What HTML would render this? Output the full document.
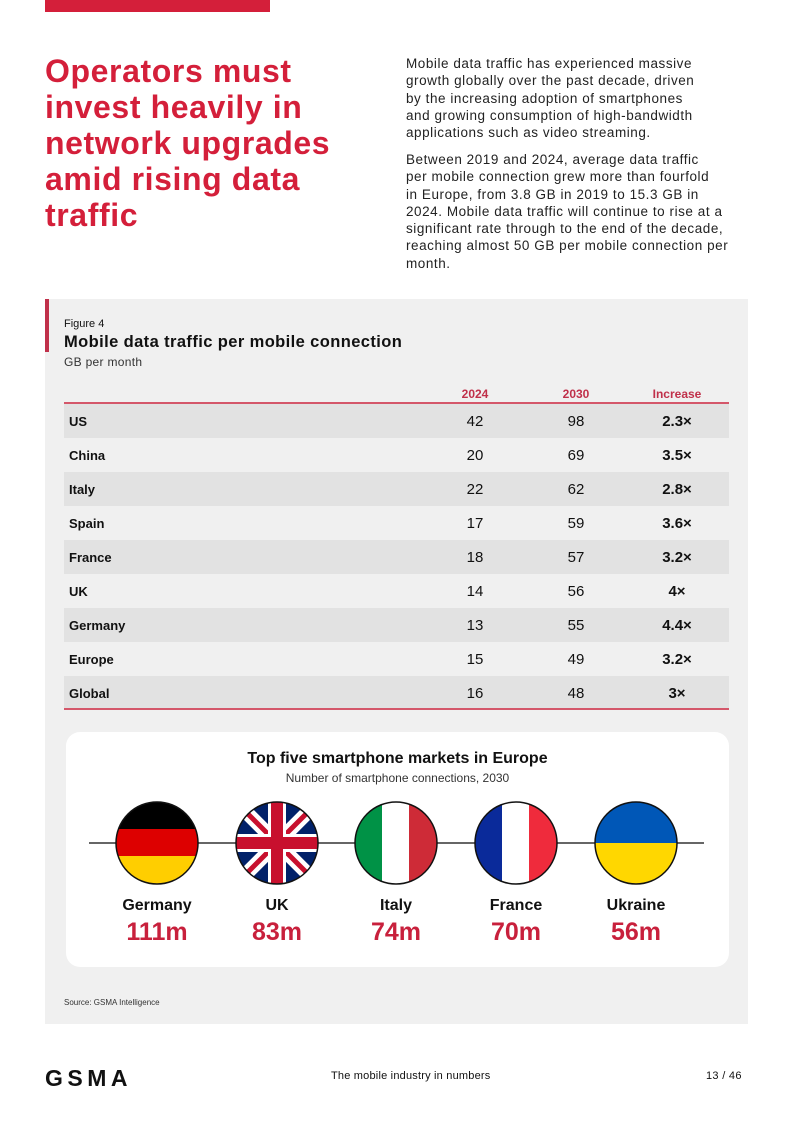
<!DOCTYPE html>
<html><head><meta charset="utf-8"><style>
*{margin:0;padding:0;box-sizing:border-box}
body{width:793px;height:1121px;background:#fff;position:relative;font-family:"Liberation Sans",sans-serif;color:#111;overflow:hidden}
.abs{position:absolute}
.title{left:45px;top:53px;font-size:32px;font-weight:bold;color:#d41f3a;line-height:36px;letter-spacing:0.6px;white-space:nowrap}
.para{left:406px;width:360px;font-size:13.5px;line-height:17.3px;color:#222;white-space:nowrap;letter-spacing:0.55px}
.row{position:absolute;left:64px;width:665px;height:34px;font-size:14px}
.row span{position:absolute;top:9px}
.hd{font-size:12px;font-weight:bold;color:#c0304a;top:387px}
</style></head><body>
<div class="abs" style="left:45px;top:0;width:225px;height:12px;background:#d41f3a"></div>
<div class="abs title">Operators must<br>invest heavily in<br>network upgrades<br>amid rising data<br>traffic</div>
<div class="abs para" style="top:55px">Mobile data traffic has experienced massive<br>growth globally over the past decade, driven<br>by the increasing adoption of smartphones<br>and growing consumption of high-bandwidth<br>applications such as video streaming.</div>
<div class="abs para" style="top:151px">Between 2019 and 2024, average data traffic<br>per mobile connection grew more than fourfold<br>in Europe, from 3.8 GB in 2019 to 15.3 GB in<br>2024. Mobile data traffic will continue to rise at a<br>significant rate through to the end of the decade,<br>reaching almost 50 GB per mobile connection per<br>month.</div>

<div class="abs" style="left:45px;top:299px;width:703px;height:725px;background:#f0f0f0"></div>
<div class="abs" style="left:45px;top:299px;width:4px;height:53px;background:#c0304a"></div>
<div class="abs" style="left:64px;top:318px;font-size:11px">Figure 4</div>
<div class="abs" style="left:64px;top:333px;font-size:16.5px;font-weight:bold;letter-spacing:0.4px">Mobile data traffic per mobile connection</div>
<div class="abs" style="left:64px;top:355px;font-size:12px;color:#333;letter-spacing:0.3px">GB per month</div>

<div class="abs hd" style="left:455px;width:40px;text-align:center">2024</div>
<div class="abs hd" style="left:556px;width:40px;text-align:center">2030</div>
<div class="abs hd" style="left:642px;width:70px;text-align:center">Increase</div>
<div class="abs" style="left:64px;top:402px;width:665px;height:2px;background:#d4576a"></div>
<div id="table"></div>
<div class="abs" style="left:64px;top:708px;width:665px;height:2px;background:#d4576a"></div>

<div class="abs" style="left:66px;top:732px;width:663px;height:235px;background:#fff;border-radius:14px"></div>
<div class="abs" style="left:66px;top:750px;width:663px;text-align:center;font-size:16px;font-weight:bold">Top five smartphone markets in Europe</div>
<div class="abs" style="left:66px;top:771px;width:663px;text-align:center;font-size:12px;color:#333">Number of smartphone connections, 2030</div>
<svg class="abs" style="left:0;top:0" width="793" height="1121" id="flags">
<line x1="89" y1="843" x2="704" y2="843" stroke="#333" stroke-width="1.5"/>
<defs>
<clipPath id="c0"><circle cx="157" cy="843" r="41"/></clipPath>
<clipPath id="c1"><circle cx="277" cy="843" r="41"/></clipPath>
<clipPath id="c2"><circle cx="396" cy="843" r="41"/></clipPath>
<clipPath id="c3"><circle cx="516" cy="843" r="41"/></clipPath>
<clipPath id="c4"><circle cx="636" cy="843" r="41"/></clipPath>
</defs>
<g clip-path="url(#c0)"><rect x="116" y="802" width="82" height="28" fill="#000"/><rect x="116" y="829" width="82" height="28" fill="#dd0000"/><rect x="116" y="856" width="82" height="28" fill="#ffce00"/></g>
<g clip-path="url(#c1)"><rect x="236" y="802" width="82" height="82" fill="#012169"/>
<path d="M236 802L318 884M318 802L236 884" stroke="#fff" stroke-width="14"/><path d="M236 802L318 884M318 802L236 884" stroke="#c8102e" stroke-width="5"/>
<rect x="236" y="834" width="82" height="18" fill="#fff"/><rect x="268" y="802" width="18" height="82" fill="#fff"/>
<rect x="236" y="837" width="82" height="12" fill="#c8102e"/><rect x="271" y="802" width="12" height="82" fill="#c8102e"/></g>
<g clip-path="url(#c2)"><rect x="355" y="802" width="28" height="82" fill="#009246"/><rect x="382" y="802" width="28" height="82" fill="#fff"/><rect x="409" y="802" width="28" height="82" fill="#ce2b37"/></g>
<g clip-path="url(#c3)"><rect x="475" y="802" width="28" height="82" fill="#0a2a9a"/><rect x="502" y="802" width="28" height="82" fill="#fff"/><rect x="529" y="802" width="28" height="82" fill="#ef2b3c"/></g>
<g clip-path="url(#c4)"><rect x="595" y="802" width="82" height="41" fill="#0057b7"/><rect x="595" y="843" width="82" height="41" fill="#ffd700"/></g>
<g fill="none" stroke="#111" stroke-width="1.5"><circle cx="157" cy="843" r="41"/><circle cx="277" cy="843" r="41"/><circle cx="396" cy="843" r="41"/><circle cx="516" cy="843" r="41"/><circle cx="636" cy="843" r="41"/></g>
</svg>
<div id="markets"></div>

<div class="abs" style="left:64px;top:998px;font-size:8px;color:#333">Source: GSMA Intelligence</div>
<div class="abs" style="left:45px;top:1065px;font-size:23px;font-weight:bold;letter-spacing:4.5px">GSMA</div>
<div class="abs" style="left:331px;top:1070px;font-size:11px;letter-spacing:0.2px">The mobile industry in numbers</div>
<div class="abs" style="left:706px;top:1070px;font-size:11px;letter-spacing:0.3px">13 / 46</div>

<script>
const countries=["US","China","Italy","Spain","France","UK","Germany","Europe","Global"];
const v2024=[42,20,22,17,18,14,13,15,16];
const v2030=[98,69,62,59,57,56,55,49,48];
const increase=["2.3×","3.5×","2.8×","3.6×","3.2×","4×","4.4×","3.2×","3×"];
const markets=["Germany","UK","Italy","France","Ukraine"];
const marketValues=["111m","83m","74m","70m","56m"];

const t=document.getElementById('table');
countries.forEach((c,i)=>{
  const r=document.createElement('div');
  r.className='row';
  
  
  r.style.top=(404+i*34)+'px';
  r.style.background=i%2===0?'#e2e2e2':'transparent';
  r.innerHTML=`<span style="left:5px;font-weight:bold;font-size:13px;top:10px">${c}</span>
  <span style="left:391px;width:40px;text-align:center;font-size:15px">${v2024[i]}</span>
  <span style="left:492px;width:40px;text-align:center;font-size:15px">${v2030[i]}</span>
  <span style="left:583px;width:60px;text-align:center;font-weight:bold;font-size:15px">${increase[i]}</span>`;
  t.appendChild(r);
});
const cx=[157,277,396,516,636];
const m=document.getElementById('markets');
markets.forEach((n,i)=>{
  const a=document.createElement('div');
  a.className='abs';
  
  
  a.style.cssText=`left:${cx[i]-60}px;top:897px;width:120px;text-align:center;font-size:16px;font-weight:bold`;
  a.textContent=n;m.appendChild(a);
  const b=document.createElement('div');
  b.className='abs';
  
  
  b.style.cssText=`left:${cx[i]-60}px;top:918px;width:120px;text-align:center;font-size:25px;font-weight:bold;color:#c8203c`;
  b.textContent=marketValues[i];m.appendChild(b);
});
</script>
</body></html>
